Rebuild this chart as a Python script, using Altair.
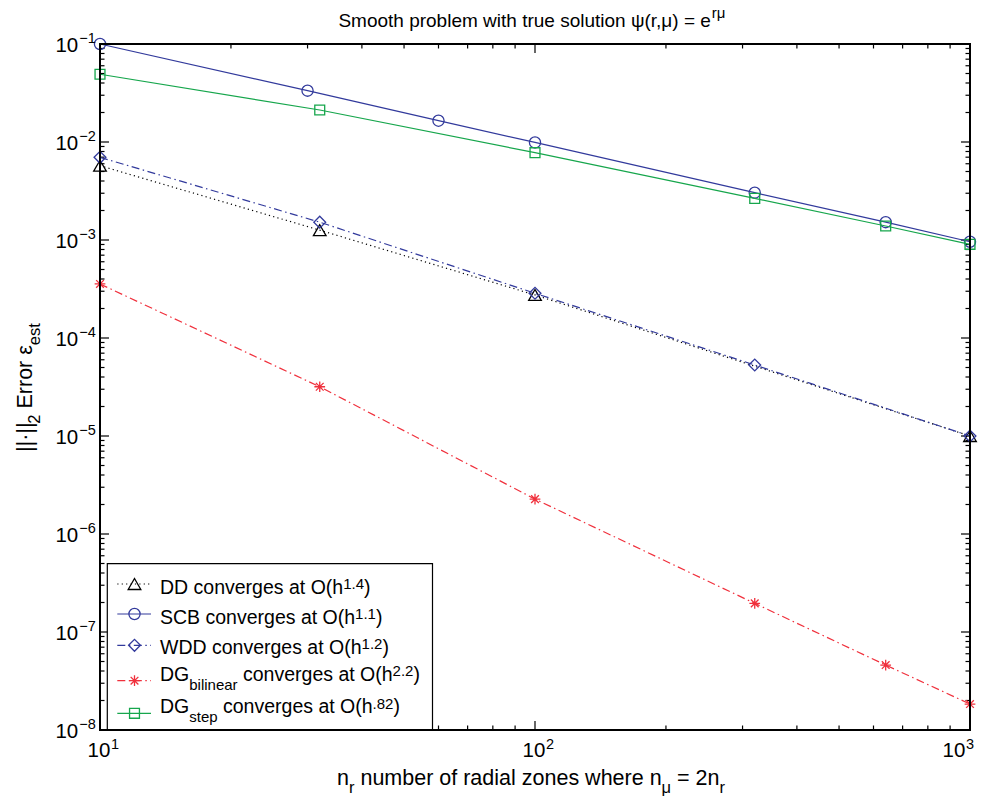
import altair as alt
import pandas as pd

FONT = "Liberation Sans, Arial, Helvetica, sans-serif"

# ---------------- data ----------------
dd_x = [10, 32, 100, 1000]
dd_y = [5.73e-3, 1.26e-3, 2.75e-4, 1.0e-5]
scb_x = [10, 30, 60, 100, 320, 640, 1000]
scb_y = [1.0e-1, 3.34e-2, 1.65e-2, 9.9e-3, 3.04e-3, 1.52e-3, 9.6e-4]
wdd_x = [10, 32, 100, 320, 1000]
wdd_y = [6.98e-3, 1.52e-3, 2.86e-4, 5.3e-5, 1.0e-5]
bil_x = [10, 32, 100, 320, 640, 1000]
bil_y = [3.56e-4, 3.18e-5, 2.27e-6, 1.96e-7, 4.6e-8, 1.84e-8]
step_x = [10, 32, 100, 320, 640, 1000]
step_y = [4.91e-2, 2.12e-2, 7.78e-3, 2.66e-3, 1.39e-3, 9.04e-4]

x_major = [10, 100, 1000]
x_tick_exp = ["1", "2", "3"]
x_minor = [m * 10 ** k for k in (1, 2) for m in range(2, 10)]
y_major = [1e-8, 1e-7, 1e-6, 1e-5, 1e-4, 1e-3, 1e-2, 1e-1]
y_tick_exp = ["\u22128", "\u22127", "\u22126", "\u22125", "\u22124", "\u22123", "\u22122", "\u22121"]
y_minor = [m * 10.0 ** k for k in range(-8, -1) for m in range(2, 10)]

title_parts = [("Smooth problem with true solution \u03c8(r,\u03bc) = e", "n"), ("r\u03bc", "sup")]
xlabel_parts = [("n", "n"), ("r", "sub"), (" number of radial zones where n", "n"),
                ("\u03bc", "sub"), (" = 2n", "n"), ("r", "sub")]
ylabel_parts = [("||\u00b7||", "n"), ("2", "sub"), (" Error \u03b5", "n"), ("est", "sub")]
legend_parts = [
    [("DD converges at O(h", "n"), ("1.4", "sup"), (")", "n")],
    [("SCB converges at O(h", "n"), ("1.1", "sup"), (")", "n")],
    [("WDD converges at O(h", "n"), ("1.2", "sup"), (")", "n")],
    [("DG", "n"), ("bilinear", "sub"), (" converges at O(h", "n"), ("2.2", "sup"), (")", "n")],
    [("DG", "n"), ("step", "sub"), (" converges at O(h", "n"), (".82", "sup"), (")", "n")],
]

# ---------------- layout / style ----------------
W, H = 870, 686
L0, T0 = 100, 44
BLUE = "#323a9c"
GREEN = "#16a64c"
RED = "#f0303c"
BLACK = "#000000"
STAR = "M-1,0L1,0M0,-1L0,1M-0.72,-0.72L0.72,0.72M-0.72,0.72L0.72,-0.72"
DOT = [1.2, 3.2]
DASHDOT = [8, 3.5, 1.5, 3.5]

# series: (x, y, color, dash, shape, size)
series = [
    (dd_x, dd_y, BLACK, DOT, "triangle-up", 160),
    (scb_x, scb_y, BLUE, None, "circle", 125),
    (wdd_x, wdd_y, BLUE, DASHDOT, "diamond", 140),
    (bil_x, bil_y, RED, DASHDOT, STAR, 115),
    (step_x, step_y, GREEN, None, "square", 98),
]

xs = alt.Scale(type="log", domain=[10, 1000], nice=False)
ys = alt.Scale(type="log", domain=[1e-8, 1e-1], nice=False)

W_ = {' ': 278, '(': 333, ')': 333, '.': 278, ',': 278, '=': 584, '|': 260, '\u00b7': 278, '\u2212': 584,
      'A': 667, 'B': 667, 'C': 722, 'D': 722, 'E': 667, 'G': 778, 'O': 778, 'S': 667, 'W': 944,
      'a': 556, 'b': 556, 'c': 500, 'd': 556, 'e': 556, 'f': 278, 'g': 556, 'h': 556, 'i': 222,
      'l': 222, 'm': 833, 'n': 556, 'o': 556, 'p': 556, 'r': 333, 's': 500, 't': 278, 'u': 556,
      'v': 500, 'w': 722, 'z': 500, '\u03b5': 446, '\u03c8': 712, '\u03bc': 576}
for _d in "0123456789":
    W_[_d] = 556


def tw(s, size):
    return sum(W_.get(c, 556) for c in s) / 1000.0 * size


def layout(parts, x0, base, main, small, sup, sub):
    """Place text pieces one after another; leading spaces become an advance."""
    out = []
    x = x0
    for s, kind in parts:
        fs = main if kind == "n" else small
        b = base + (0 if kind == "n" else (sup if kind == "sup" else sub))
        lead = len(s) - len(s.lstrip(" "))
        x += tw(" " * lead, fs)
        s2 = s.lstrip(" ")
        out.append((s2, x, b, fs))
        x += tw(s2, fs)
    return out


dummy = pd.DataFrame({"a": [0]})


def txt(s, x, y, size, angle=0):
    kw = dict(text=s, align="left", baseline="alphabetic", fontSize=size, font=FONT, color="black")
    if angle:
        kw["angle"] = angle
    return alt.Chart(dummy).mark_text(**kw).encode(x=alt.value(x - L0), y=alt.value(y - T0))


layers = []

# ---- ticks (inside the box, all four sides) ----
for vals, ln in ((x_major, 9), (x_minor, 4.5)):
    df = pd.DataFrame({"v": vals})
    for y0, y1 in ((H, H - ln), (0, ln)):
        layers.append(alt.Chart(df).mark_rule(color="black", strokeWidth=1.2).encode(
            x=alt.X("v:Q", scale=xs, axis=None), y=alt.value(y0), y2=alt.value(y1)))
for vals, ln in ((y_major, 9), (y_minor, 4.5)):
    df = pd.DataFrame({"v": vals})
    for x0, x1 in ((0, ln), (W, W - ln)):
        layers.append(alt.Chart(df).mark_rule(color="black", strokeWidth=1.2).encode(
            y=alt.Y("v:Q", scale=ys, axis=None), x=alt.value(x0), x2=alt.value(x1)))

# ---- data series ----
for xv, yv, col, dash, shape, size in series:
    df = pd.DataFrame({"x": xv, "y": yv})
    base = alt.Chart(df).encode(x=alt.X("x:Q", scale=xs, axis=None),
                                y=alt.Y("y:Q", scale=ys, axis=None))
    lk = dict(color=col, strokeWidth=1.2)
    if dash:
        lk["strokeDash"] = dash
    layers.append(base.mark_line(**lk))
    layers.append(base.mark_point(shape=shape, size=size, color=col, filled=False,
                                  strokeWidth=1.3, opacity=1))

# ---- tick labels ----
ydf = pd.DataFrame({"v": y_major, "e": y_tick_exp})
layers.append(alt.Chart(ydf).mark_text(text="10", align="right", baseline="alphabetic", dy=7.7,
                                       fontSize=20.5, font=FONT, color="black").encode(
    y=alt.Y("v:Q", scale=ys, axis=None), x=alt.value(-21.8)))
layers.append(alt.Chart(ydf).mark_text(align="left", baseline="alphabetic", dy=-0.7,
                                       fontSize=14.5, font=FONT, color="black").encode(
    y=alt.Y("v:Q", scale=ys, axis=None), x=alt.value(-20.8), text="e:N"))

xdf_a = pd.DataFrame({"v": x_major[:2], "e": x_tick_exp[:2]})
xdf_b = pd.DataFrame({"v": x_major[2:], "e": x_tick_exp[2:]})
for df, sh in ((xdf_a, -1.0), (xdf_b, -16.0)):
    layers.append(alt.Chart(df).mark_text(text="10", align="center", baseline="alphabetic",
                                          dx=sh, fontSize=20.5, font=FONT, color="black").encode(
        x=alt.X("v:Q", scale=xs, axis=None), y=alt.value(H + 27)))
    layers.append(alt.Chart(df).mark_text(align="left", baseline="alphabetic", dx=sh + 11.9,
                                          fontSize=14.5, font=FONT, color="black").encode(
        x=alt.X("v:Q", scale=xs, axis=None), y=alt.value(H + 18.6), text="e:N"))

# ---- legend ----
layers.append(alt.Chart(dummy).mark_rect(fill="white", stroke="black", strokeWidth=1.2).encode(
    x=alt.value(107.3 - L0), x2=alt.value(432.5 - L0), y=alt.value(563.7 - T0), y2=alt.value(H)))
leg_base = [593.7, 623.7, 653.7, 680.7, 713.3]
leg_sym_y = [584.0, 614.0, 645.3, 680.7, 713.3]
for i, (xv, yv, col, dash, shape, size) in enumerate(series):
    lk = dict(color=col, strokeWidth=1.2)
    if dash:
        lk["strokeDash"] = dash
    layers.append(alt.Chart(dummy).mark_rule(**lk).encode(
        x=alt.value(117.3 - L0), x2=alt.value(151.0 - L0), y=alt.value(leg_sym_y[i] - T0)))
    layers.append(alt.Chart(dummy).mark_point(shape=shape, size=size, color=col, filled=False,
                                              strokeWidth=1.3, opacity=1).encode(
        x=alt.value(134.5 - L0), y=alt.value(leg_sym_y[i] - T0)))
    for s, x, b, fs in layout(legend_parts[i], 160.0, leg_base[i], 19.5, 15, -4.5, 9):
        layers.append(txt(s, x, b, fs))

# ---- title ----
for s, x, b, fs in layout(title_parts, 338.4, 27.3, 19, 15, -9.5, 9):
    layers.append(txt(s, x, b, fs))

# ---- x label ----
for s, x, b, fs in layout(xlabel_parts, 337.0, 785, 21.5, 16.5, -5, 8):
    layers.append(txt(s, x, b, fs))

# ---- y label (rotated, reading upward) ----
yl_base_x = 32.0
yy = 452.0
for s, kind in ylabel_parts:
    fs = 21.5 if kind == "n" else 16.5
    bx = yl_base_x + (0 if kind == "n" else 8)
    lead = len(s) - len(s.lstrip(" "))
    yy -= tw(" " * lead, fs)
    s2 = s.lstrip(" ")
    layers.append(txt(s2, bx, yy, fs, angle=270))
    yy -= tw(s2, fs)

# ---- frame ----
layers.append(alt.Chart(dummy).mark_rect(filled=False, stroke="black", strokeWidth=2).encode(
    x=alt.value(0), x2=alt.value(W), y=alt.value(0), y2=alt.value(H)))

chart = alt.layer(*layers).properties(
    width=W, height=H,
    autosize=alt.AutoSizeParams(type="none"),
    padding={"left": L0, "top": T0, "right": 986 - L0 - W, "bottom": 799 - T0 - H},
).configure_view(strokeWidth=0)

chart.save("out.html", embed_options={"renderer": "svg", "actions": False})
